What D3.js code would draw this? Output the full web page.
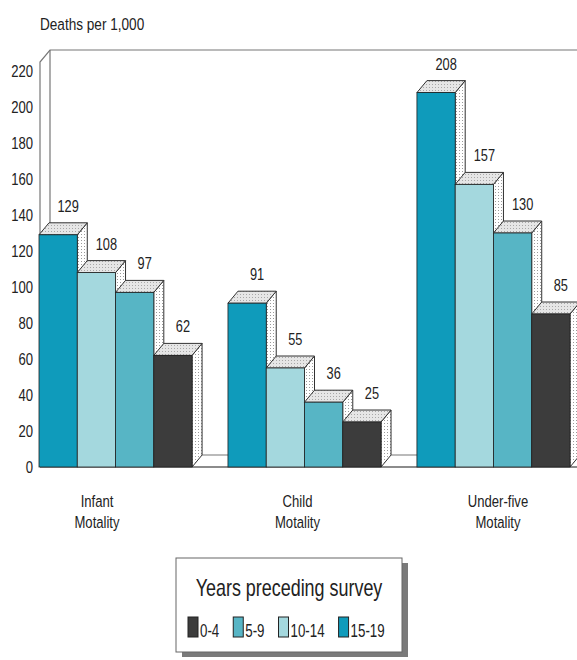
<!DOCTYPE html>
<html><head><meta charset="utf-8">
<script src="https://cdn.jsdelivr.net/npm/d3@7"></script>
<style>
html,body{margin:0;padding:0;background:#fff;}
text{font-family:"Liberation Sans",Arial,sans-serif;fill:#222;}
</style></head>
<body><svg id="c" width="577" height="660"></svg>
<script>
const categoryLines = [["Infant","Motality"],["Child","Motality"],["Under-five","Motality"]];
const categories = ["Infant","Child","Under-five"];
const seriesKeys = ["15-19","10-14","5-9","0-4"];
const infantValues = [129,108,97,62];
const childValues = [91,55,36,25];
const underFiveValues = [208,157,130,85];
const yTicks = [0,20,40,60,80,100,120,140,160,180,200,220];
const legendOrder = ["0-4","5-9","10-14","15-19"];
const yTitle = "Deaths per 1,000";
const legendTitle = "Years preceding survey";
const colors = {"15-19":"#0f9bbb","10-14":"#a4d8de","5-9":"#57b5c5","0-4":"#3c3c3c"};

const groupValues = [infantValues, childValues, underFiveValues];
const svg = d3.select("#c");
const W = 577;
const dx = 10, dy = -12;
const y = d3.scaleLinear().domain([0,225]).range([467,62]);
const x0 = d3.scaleBand().domain(categories).range([39,570]).paddingInner(0.19).paddingOuter(0);
const x1 = d3.scaleBand().domain(seriesKeys).range([0, x0.bandwidth()]).padding(0);
const labelX = d3.scalePoint().domain(categories).range([97,498]);

function ntext(parent, x, yy, str, size, anchor, sx){
  return parent.append("text")
    .attr("transform",`translate(${x},${yy}) scale(${sx},1)`)
    .attr("text-anchor",anchor||"start").attr("font-size",size).text(str);
}

const defs = svg.append("defs");
const pt = defs.append("pattern").attr("id","ptop").attr("width",3).attr("height",3).attr("patternUnits","userSpaceOnUse");
pt.append("rect").attr("width",3).attr("height",3).attr("fill","#e6e6e6");
pt.append("rect").attr("width",1).attr("height",1).attr("fill","#a8a8a8");
const ps = defs.append("pattern").attr("id","pside").attr("width",3).attr("height",3).attr("patternUnits","userSpaceOnUse");
ps.append("rect").attr("width",3).attr("height",3).attr("fill","#ffffff");
ps.append("rect").attr("width",1).attr("height",1).attr("fill","#9a9a9a");

// y title
ntext(svg, 40, 30, yTitle, 17, "start", 0.8);

// walls
const y0 = y(0), yTop = y(225);
const xa = x0.range()[0]+1;
const wall = svg.append("g").attr("fill","none").attr("stroke","#777").attr("stroke-width",1.2);
wall.append("path").attr("d",`M${xa},${y0}L${xa},${yTop}L${xa+dx},${yTop+dy}L${W+5},${yTop+dy}`);
wall.append("path").attr("d",`M${xa+dx},${yTop+dy}L${xa+dx},${y0+dy}L${W+5},${y0+dy}`);
wall.append("path").attr("d",`M${xa},${y0}L${xa+dx},${y0+dy}`);
wall.append("path").attr("d",`M${xa},${y0}L${W+5},${y0}`).attr("stroke","#666").attr("stroke-width",1.6);

// y tick labels
const ytg = svg.append("g");
yTicks.forEach(d=>{ ntext(ytg, 33, y(d)+6, d, 17, "end", 0.77); });

// bars
categories.forEach((cat,gi)=>{
  const g = svg.append("g");
  seriesKeys.forEach((k,si)=>{
    const v = groupValues[gi][si];
    const xl = x0(cat)+x1(k), xr = xl + x1.bandwidth(), ytp = y(v);
    g.append("path").attr("d",`M${xr},${ytp}L${xr+dx},${ytp+dy}L${xr+dx},${y0+dy}L${xr},${y0}Z`)
      .attr("fill","url(#pside)").attr("stroke","#333").attr("stroke-width",1);
    g.append("path").attr("d",`M${xl},${ytp}L${xl+dx},${ytp+dy}L${xr+dx},${ytp+dy}L${xr},${ytp}Z`)
      .attr("fill","url(#ptop)").attr("stroke","#333").attr("stroke-width",1);
    g.append("rect").attr("x",xl).attr("y",ytp).attr("width",x1.bandwidth()).attr("height",y0-ytp)
      .attr("fill",colors[k]).attr("stroke","#222").attr("stroke-width",0.8);
  });
});

// value labels
categories.forEach((cat,gi)=>{
  const g = svg.append("g");
  seriesKeys.forEach((k,si)=>{
    ntext(g, x0(cat)+x1(k)+x1.bandwidth()/2+dx, y(groupValues[gi][si])-23, groupValues[gi][si], 16, "middle", 0.8);
  });
});

// category labels
categories.forEach((cat,gi)=>{
  categoryLines[gi].forEach((ln,li)=>{
    ntext(svg, labelX(cat), 507+li*21, ln, 17, "middle", 0.77);
  });
});

// legend
const lg = svg.append("g");
const bx=176, by=558, bw=226, bh=94;
lg.append("rect").attr("x",bx+6).attr("y",by+5).attr("width",bw).attr("height",bh).attr("fill","#7a7a7a");
lg.append("rect").attr("x",bx).attr("y",by).attr("width",bw).attr("height",bh).attr("fill","#fff").attr("stroke","#666").attr("stroke-width",1);
ntext(lg, bx+bw/2, 596, legendTitle, 23, "middle", 0.78);
let cx = 188;
legendOrder.forEach(k=>{
  lg.append("rect").attr("x",cx).attr("y",617).attr("width",10).attr("height",20)
    .attr("fill",colors[k]).attr("stroke","#222").attr("stroke-width",1);
  const t = ntext(lg, cx+12, 637, k, 18, "start", 0.74);
  cx += 12 + t.node().getComputedTextLength()*0.74 + 14;
});
</script></body></html>
